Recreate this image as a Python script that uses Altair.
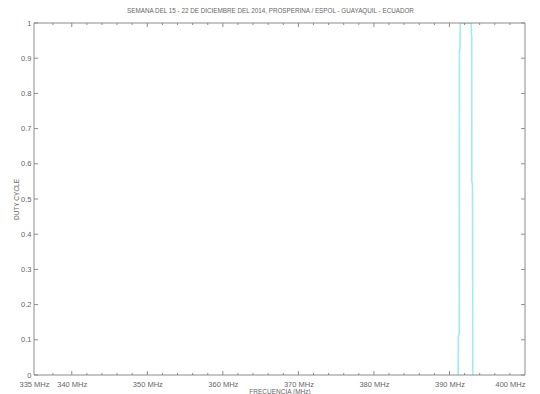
import altair as alt
import pandas as pd

# Data
freq = [391.15, 391.18, 391.30, 391.32, 391.40, 391.42, 392.88, 392.90, 392.95, 392.96, 393.05, 393.08]
duty = [0.0, 0.11, 0.12, 0.92, 0.93, 1.0, 1.0, 0.97, 0.96, 0.55, 0.54, 0.0]

x_labels = [335, 340, 350, 360, 370, 380, 390, 400]
x_major = [340, 350, 360, 370, 380, 390]
x_minor = [337.5] + [v for v in range(342, 400, 2) if v % 10 != 0]
y_ticks = [round(i * 0.1, 1) for i in range(0, 11)]

TITLE = "SEMANA DEL 15 - 22 DE DICIEMBRE DEL 2014, PROSPERINA / ESPOL - GUAYAQUIL - ECUADOR"
W, H = 491, 352
FONT = "Liberation Sans"
TXT = "#666666"
AX = "#8c8c8c"

xs = alt.Scale(domain=[335, 400], nice=False, zero=False)
ys = alt.Scale(domain=[0, 1], nice=False)

xaxis = alt.Axis(values=x_labels, labelExpr="datum.value + ' MHz'", ticks=False, domain=False,
                 grid=False, labelPadding=5, title="FRECUENCIA (MHz)", titlePadding=1,
                 labelFlush=False, labelOverlap=False,
                 labelAlign=alt.ExprRef("datum.value >= 400 ? 'right' : 'center'"))
yaxis = alt.Axis(values=y_ticks, format="~g", ticks=False, domain=False, grid=False,
                 labelPadding=3, title="DUTY CYCLE", titlePadding=1, labelOverlap=False)

line_df = pd.DataFrame({"f": freq, "d": duty})
major_df = pd.DataFrame({"f": x_major})
minor_df = pd.DataFrame({"f": x_minor})
ytick_df = pd.DataFrame({"d": y_ticks})
one = pd.DataFrame({"a": [0]})

X = alt.X("f:Q", scale=xs, axis=xaxis, title="FRECUENCIA (MHz)")
Y = alt.Y("d:Q", scale=ys, axis=yaxis, title="DUTY CYCLE")

line = alt.Chart(line_df).mark_line(color="#9ceded", strokeWidth=1.6, clip=True).encode(x=X, y=Y)

def xticks(df, length):
    bot = alt.Chart(df).mark_rule(color=AX, strokeWidth=1).encode(
        x=X, y=alt.value(H), y2=alt.value(H - length))
    top = alt.Chart(df).mark_rule(color=AX, strokeWidth=1).encode(
        x=X, y=alt.value(0), y2=alt.value(length))
    return [bot, top]

yl = alt.Chart(ytick_df).mark_rule(color=AX, strokeWidth=1).encode(
    y=Y, x=alt.value(0), x2=alt.value(4))
yr = alt.Chart(ytick_df).mark_rule(color=AX, strokeWidth=1).encode(
    y=Y, x=alt.value(W - 4), x2=alt.value(W))

box_top = alt.Chart(one).mark_rule(color=AX, strokeWidth=1).encode(x=alt.value(0), x2=alt.value(W), y=alt.value(0))
box_bot = alt.Chart(one).mark_rule(color=AX, strokeWidth=1).encode(x=alt.value(0), x2=alt.value(W), y=alt.value(H))
box_l = alt.Chart(one).mark_rule(color=AX, strokeWidth=1).encode(x=alt.value(0), y=alt.value(0), y2=alt.value(H))
box_r = alt.Chart(one).mark_rule(color=AX, strokeWidth=1).encode(x=alt.value(W), y=alt.value(0), y2=alt.value(H))

chart = alt.layer(
    line, *xticks(major_df, 4), *xticks(minor_df, 2), yl, yr, box_top, box_bot, box_l, box_r
).properties(
    width=W, height=H,
    title=alt.TitleParams(TITLE, fontSize=6.3, font=FONT, color=TXT, fontWeight="normal",
                          anchor="middle", offset=5, dx=-9),
    autosize=alt.AutoSizeParams(type="none"),
    padding={"left": 26, "top": 15, "right": 7, "bottom": 19},
).configure(background="white").configure_view(stroke=None).configure_axis(
    labelFont=FONT, labelFontSize=7.5, labelColor=TXT,
    titleFont=FONT, titleFontSize=6.5, titleColor=TXT, titleFontWeight="normal",
)

chart.save("out.html", embed_options={"renderer": "svg", "actions": False})
